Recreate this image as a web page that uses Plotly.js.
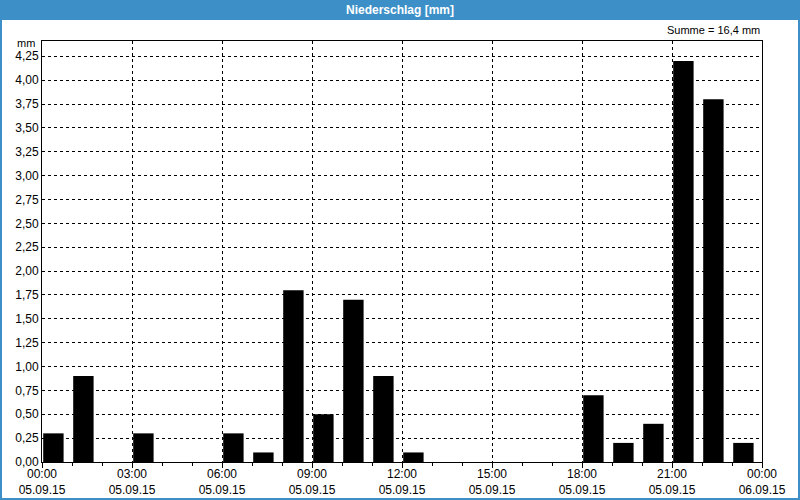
<!DOCTYPE html>
<html>
<head>
<meta charset="utf-8">
<script src="https://cdn.plot.ly/plotly-3.0.1.min.js"></script>
<style>
html,body{margin:0;padding:0;background:#fff;}
#chart{width:800px;height:500px;}
</style>
</head>
<body>
<div id="chart"></div>
<script>
const hours = [0,1,2,3,4,5,6,7,8,9,10,11,12,13,14,15,16,17,18,19,20,21,22,23];
const values = [0.3,0.9,0,0.3,0,0,0.3,0.1,1.8,0.5,1.7,0.9,0.1,0,0,0,0,0,0.7,0.2,0.4,4.2,3.8,0.2];
const tickHours = [0,3,6,9,12,15,18,21,24];
const tickTimes = ["00:00","03:00","06:00","09:00","12:00","15:00","18:00","21:00","00:00"];
const tickDates = ["05.09.15","05.09.15","05.09.15","05.09.15","05.09.15","05.09.15","05.09.15","05.09.15","06.09.15"];
const yTicks = [0,0.25,0.5,0.75,1,1.25,1.5,1.75,2,2.25,2.5,2.75,3,3.25,3.5,3.75,4,4.25];
const titleText = "Niederschlag [mm]";
const sumText = "Summe = 16,4 mm";
const unitText = "mm";

const W = 800, H = 500;
const m = {l:42, r:38, t:41, b:38};
const ph = H - m.t - m.b, pw = W - m.l - m.r;
const blue = "#3c90c7";
const font = "Liberation Sans, Arial, sans-serif";

const trace = {
  type: "bar",
  x: hours,
  y: values,
  offset: 0.04,
  width: 0.68,
  marker: {color: "#000000", line: {width: 0}},
  hoverinfo: "skip"
};

const layout = {
  width: W, height: H,
  margin: m,
  paper_bgcolor: "#ffffff",
  plot_bgcolor: "#ffffff",
  separators: ",.",
  showlegend: false,
  font: {family: font, size: 12, color: "#000"},
  title: {
    text: "<b>" + titleText + "</b>",
    font: {family: font, size: 12, color: "#ffffff"},
    x: 0.5, xanchor: "center",
    y: 1 - 10/H, yref: "container", yanchor: "middle"
  },
  xaxis: {
    range: [0, 24],
    tickmode: "array",
    tickvals: tickHours,
    ticktext: tickTimes.map((t,i) => t + "<br>" + tickDates[i]),
    ticks: "outside", ticklen: 5, tickcolor: "#000", tickwidth: 1,
    ticklabelstandoff: -4,
    minor: {dtick: 1, tick0: 0, ticks: "outside", ticklen: 3, tickcolor: "#000", showgrid: false},
    showgrid: true, gridcolor: "#000", gridwidth: 1, griddash: "3px,3px",
    showline: true, linecolor: "#000", linewidth: 1, mirror: true,
    zeroline: false,
    tickfont: {family: font, size: 12, color: "#000"},
    fixedrange: true
  },
  yaxis: {
    range: [0, 4.41],
    tickmode: "array",
    tickvals: yTicks,
    tickformat: ".2f",
    ticks: "", 
    showgrid: true, gridcolor: "#000", gridwidth: 1, griddash: "3px,3px",
    showline: true, linecolor: "#000", linewidth: 1, mirror: true,
    zeroline: false,
    tickfont: {family: font, size: 12, color: "#000"},
    fixedrange: true
  },
  shapes: [
    {type: "rect", xref: "paper", yref: "paper",
     x0: -m.l/pw, x1: 1 + m.r/pw, y0: 1 + (m.t-20)/ph, y1: 1 + m.t/ph,
     fillcolor: blue, line: {width: 0}, layer: "below"},
    {type: "rect", xref: "paper", yref: "paper",
     x0: (-m.l+1)/pw, x1: 1 + (m.r-1)/pw, y0: -(m.b-1)/ph, y1: 1 + m.t/ph,
     fillcolor: "rgba(0,0,0,0)", line: {color: blue, width: 2}, layer: "below"}
  ],
  annotations: [
    {text: sumText, xref: "paper", yref: "paper", x: 1, xanchor: "right",
     y: 1 + 3/ph, yanchor: "bottom", showarrow: false,
     font: {family: font, size: 11, color: "#000"}},
    {text: unitText, xref: "paper", yref: "paper", x: -5/pw, xanchor: "right",
     y: 1 - 2/ph, yanchor: "middle", showarrow: false,
     font: {family: font, size: 11, color: "#000"}}
  ]
};

Plotly.newPlot("chart", [trace], layout, {staticPlot: true, displayModeBar: false});
</script>
</body>
</html>
